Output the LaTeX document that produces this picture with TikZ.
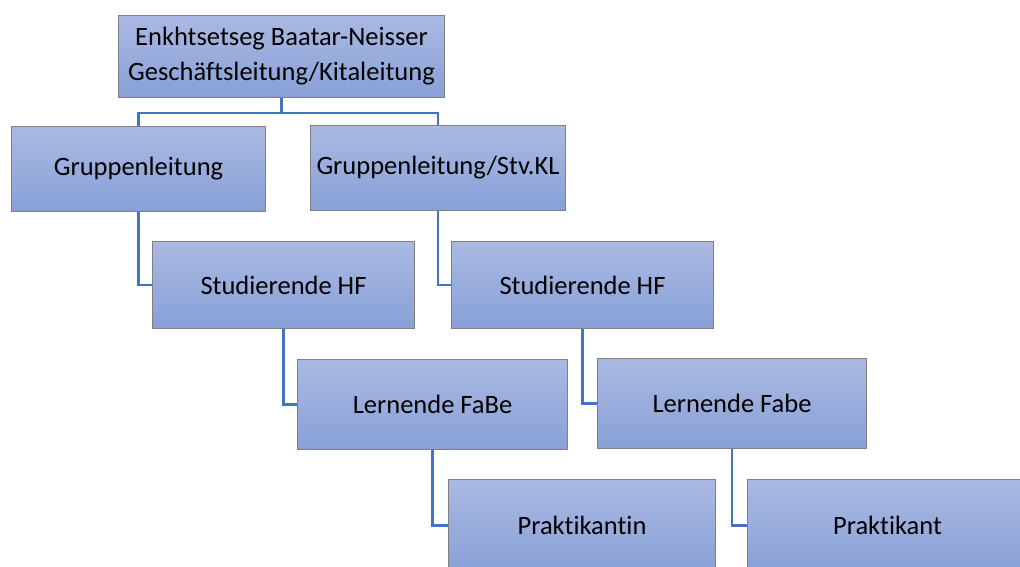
\documentclass[tikz,border=0pt]{standalone}
\usepackage{fontspec}
\setmainfont{Carlito}[Ligatures=NoCommon]
\definecolor{boxtop}{RGB}{170,185,226}
\definecolor{boxbot}{RGB}{136,160,215}
\definecolor{boxedge}{RGB}{128,128,128}
\definecolor{linkblue}{RGB}{68,114,196}
\begin{document}
\begin{tikzpicture}[x=1pt,y=-1pt,
  orgbox/.style={draw=boxedge,line width=1pt,top color=boxtop,bottom color=boxbot,
    anchor=north west,inner sep=0pt,align=center,text=black,
    font=\fontsize{26.5}{35}\selectfont},
  link/.style={draw=linkblue,line width=2.5pt}]
\useasboundingbox (0,0) rectangle (1020,566);
\clip (0,0) rectangle (1020,566);
\node[orgbox,minimum width=326pt,minimum height=82pt] (top) at (118,15)
  {Enkhtsetseg Baatar-Neisser\\Geschäftsleitung/Kitaleitung};
\node[orgbox,minimum width=254pt,minimum height=85pt] (g1) at (11,126) {Gruppenleitung};
\node[orgbox,minimum width=255pt,minimum height=85pt] (g2) at (310,125) {Gruppenleitung/Stv.KL};
\node[orgbox,minimum width=262pt,minimum height=87pt] (s1) at (152,241) {Studierende HF};
\node[orgbox,minimum width=262pt,minimum height=87pt] (s2) at (451,241) {Studierende HF};
\node[orgbox,minimum width=270pt,minimum height=90pt] (l1) at (297,359) {Lernende FaBe};
\node[orgbox,minimum width=269pt,minimum height=90pt] (l2) at (597,358) {Lernende Fabe};
\node[orgbox,minimum width=267pt,minimum height=92pt] (p1) at (448,479) {Praktikantin};
\node[orgbox,minimum width=280pt,minimum height=92pt] (p2) at (747,479) {Praktikant};
\coordinate (bar) at ([yshift=-15pt]top.south);
\draw[link] (top.south) -- (bar) -| (g1.north);
\draw[link] (bar) -| (g2.north);
\draw[link] (g1.south) |- (s1.west);
\draw[link] (g2.south) |- (s2.west);
\draw[link] (s1.south) |- (l1.west);
\draw[link] (s2.south) |- (l2.west);
\draw[link] (l1.south) |- (p1.west);
\draw[link] (l2.south) |- (p2.west);
\end{tikzpicture}
\end{document}
